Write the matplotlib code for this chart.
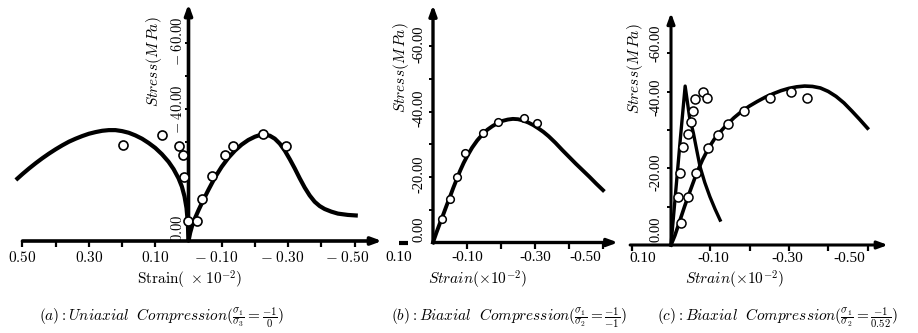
import matplotlib
matplotlib.use("Agg")
import matplotlib.pyplot as plt
import matplotlib.markers as mmarkers
import matplotlib.transforms as mtransforms

plt.rcParams["mathtext.fontset"] = "cm"
plt.rcParams["font.family"] = ["Liberation Serif", "DejaVu Serif"]

# strain in 1e-2, stress in MPa, compression negative
# (a) uniaxial compression
A_LAT_STRAIN = [0.52, 0.50, 0.48, 0.46, 0.44, 0.42, 0.40, 0.38, 0.36, 0.34, 0.32,
                0.30, 0.28, 0.26, 0.24, 0.22, 0.20, 0.18, 0.16, 0.14, 0.12, 0.10,
                0.08, 0.06, 0.045, 0.03, 0.02, 0.012, 0.006, 0.002, 0.0]
A_LAT_STRESS = [-18.5, -20.3, -22.0, -23.6, -25.1, -26.5, -27.8, -29.0, -30.1, -31.0,
                -31.8, -32.5, -33.0, -33.4, -33.6, -33.6, -33.3, -32.8, -32.0, -31.0,
                -29.7, -28.2, -26.3, -24.0, -21.8, -19.0, -16.5, -13.5, -10.0, -5.5, 0.0]
A_AX_STRAIN = [0.0, -0.005, -0.012, -0.02, -0.03, -0.045, -0.06, -0.08, -0.10, -0.12,
               -0.14, -0.16, -0.18, -0.20, -0.215, -0.23, -0.245, -0.26, -0.275, -0.29,
               -0.305, -0.32, -0.335, -0.35, -0.365, -0.38, -0.395, -0.41, -0.43,
               -0.45, -0.48, -0.51]
A_AX_STRESS = [0.0, -2.5, -5.0, -7.0, -9.3, -12.5, -15.5, -19.3, -22.5, -25.2,
               -27.4, -29.2, -30.6, -31.6, -32.1, -32.2, -31.9, -31.0, -29.5, -27.4,
               -24.8, -22.0, -19.0, -16.2, -13.8, -11.9, -10.6, -9.7, -8.9,
               -8.3, -7.9, -7.7]
A_TEST_STRAIN = [0.197, 0.080, 0.029, 0.017, 0.014, 0.002,
                 -0.025, -0.04, -0.071, -0.11, -0.134, -0.224, -0.294]
A_TEST_STRESS = [-29.1, -32.1, -28.8, -26.1, -19.4, -6.1,
                 -6.1, -12.7, -19.7, -26.1, -28.8, -32.4, -28.8]

# (b) biaxial compression -1/-1
B_STRAIN = [0.0, -0.01, -0.02, -0.03, -0.04, -0.05, -0.06, -0.07, -0.08, -0.09,
            -0.10, -0.115, -0.13, -0.145, -0.16, -0.175, -0.19, -0.205, -0.22,
            -0.235, -0.25, -0.265, -0.28, -0.295, -0.31, -0.325, -0.34, -0.36,
            -0.38, -0.40, -0.42, -0.44, -0.46, -0.48, -0.50]
B_STRESS = [0.0, -3.0, -5.8, -8.5, -11.3, -14.0, -16.8, -19.4, -22.0, -24.3,
            -26.3, -29.0, -31.2, -33.0, -34.5, -35.6, -36.5, -37.2, -37.6,
            -37.8, -37.7, -37.3, -36.7, -35.9, -34.9, -33.8, -32.5, -30.5,
            -28.3, -26.2, -24.1, -22.1, -20.1, -18.0, -16.0]
B_TEST_STRAIN = [-0.027, -0.05, -0.07, -0.094, -0.146, -0.19, -0.267, -0.306]
B_TEST_STRESS = [-7.2, -13.3, -20.0, -27.4, -33.5, -36.8, -38.1, -36.5]

# (c) biaxial compression -1/0.52
C_LAT_STRAIN = [0.0, -0.012, -0.024, -0.036, -0.047, -0.057, -0.066, -0.074, -0.086,
                -0.099, -0.112, -0.125]
C_LAT_STRESS = [0.0, -14.0, -28.0, -41.5, -33.5, -29.2, -24.5, -20.4, -16.3,
                -12.6, -9.4, -6.5]
C_AX_STRAIN = [0.0, -0.01, -0.023, -0.035, -0.05, -0.065, -0.08, -0.095, -0.11,
               -0.125, -0.14, -0.16, -0.18, -0.20, -0.22, -0.24, -0.26, -0.28,
               -0.30, -0.32, -0.34, -0.36, -0.38, -0.40, -0.42, -0.44, -0.46,
               -0.48, -0.50]
C_AX_STRESS = [0.0, -2.5, -6.5, -10.2, -14.5, -18.7, -22.2, -25.2, -27.6,
               -29.5, -31.2, -33.2, -34.9, -36.3, -37.5, -38.6, -39.5, -40.3,
               -40.9, -41.3, -41.5, -41.4, -41.0, -40.1, -38.8, -37.1, -35.0,
               -32.8, -30.5]
C_TEST1_STRAIN = [-0.019, -0.023, -0.031, -0.042, -0.050, -0.057, -0.061, -0.081, -0.091]
C_TEST1_STRESS = [-12.6, -18.7, -25.5, -29.0, -32.2, -35.1, -38.0, -40.0, -38.3]
C_TEST2_STRAIN = [-0.025, -0.044, -0.064, -0.095, -0.12, -0.146, -0.186, -0.252,
                  -0.305, -0.345]
C_TEST2_STRESS = [-5.7, -12.6, -18.7, -25.2, -28.7, -31.5, -35.0, -38.3, -40.0, -38.3]

W, H = 918, 333
fig = plt.figure(figsize=(W / 100, H / 100), dpi=100)


def make_panel(left, right, ox, oy, sx, sy):
    # axes covering the whole height; scales set so one data unit = sx / sy px
    ax = fig.add_axes([left / W, 0, (right - left) / W, 1])
    ax.set_xlim((ox - left) / sx, (ox - right) / sx)
    ax.set_ylim((H - oy) / sy, -oy / sy)
    ax.axis("off")
    return ax


def off(ax, dx, dy):
    return mtransforms.offset_copy(ax.transData, fig=fig, x=dx, y=dy, units="dots")


def arrow(ax, x0, y0, x1, y1, lw):
    ax.annotate("", xy=(x1, y1), xytext=(x0, y0), annotation_clip=False,
                arrowprops=dict(arrowstyle="-|>,head_length=0.6,head_width=0.22",
                                lw=lw, color="k", shrinkA=0, shrinkB=0))


def axes_frame(ax, x0, x1, ytop, lw, xticks, yticks):
    arrow(ax, x0, 0, x1, 0, lw)
    arrow(ax, 0, 0, 0, ytop, lw)
    ax.plot(xticks, [0] * len(xticks), ls="none", color="k",
            marker=mmarkers.TICKDOWN, ms=4, mew=1.6, clip_on=False)
    ax.plot([0] * len(yticks), yticks, ls="none", color="k",
            marker=mmarkers.TICKLEFT, ms=3, mew=1.4, clip_on=False)


# ---------------- (a) ----------------
ax_a = make_panel(0, 372, 188.5, 241, 332, 3.3)
axes_frame(ax_a, 0.5, -0.583, -71.8, 2.6,
           [0.5, 0.4, 0.3, 0.2, 0.1, -0.1, -0.2, -0.3, -0.4, -0.5],
           [-10, -20, -30, -40, -50, -60])
ax_a.plot(A_LAT_STRAIN, A_LAT_STRESS, color="k", lw=3.0, solid_capstyle="butt",
          solid_joinstyle="round")
ax_a.plot(A_AX_STRAIN, A_AX_STRESS, color="k", lw=3.0, solid_capstyle="butt",
          solid_joinstyle="round")
ax_a.plot(A_TEST_STRAIN, A_TEST_STRESS, ls="none", marker="o", ms=6.5,
          mfc="white", mec="k", mew=1.2, zorder=5)
for v, lab, dx in [(0.5, r"$\mathbf{0.50}$", 0), (0.3, r"$\mathbf{0.30}$", 0),
                   (0.1, r"$\mathbf{0.10}$", 0), (-0.1, r"$\mathbf{-\;0.10}$", -6),
                   (-0.3, r"$\mathbf{-\;0.30}$", -6), (-0.5, r"$\mathbf{-\;0.50}$", -7)]:
    ax_a.text(v, 0, lab, transform=off(ax_a, dx, -16), ha="center", va="center",
              fontsize=11)
for v, lab, dy in [(0, r"$0.00$", 13), (-40, r"$-\;40.00$", 0), (-60, r"$-\;60.00$", 2)]:
    ax_a.text(0, v, lab, transform=off(ax_a, -11, dy), rotation=90,
              ha="center", va="center", fontsize=10.5)
ax_a.text(0, 0, r"$Stress(M\,Pa)$", transform=off(ax_a, -35, 179), rotation=90,
          ha="center", va="center", fontsize=11)

# ---------------- (b) ----------------
ax_b = make_panel(372, 625, 433, 242.5, 340, 3.27)
axes_frame(ax_b, 0, -0.544, -72.6, 2.4,
           [-0.1, -0.2, -0.3, -0.4, -0.5],
           [-10, -20, -30, -40, -50, -60])
ax_b.plot([0.1, 0.074], [0, 0], color="k", lw=3.0, solid_capstyle="butt")
ax_b.plot(B_STRAIN, B_STRESS, color="k", lw=2.8, solid_joinstyle="round")
ax_b.plot(B_TEST_STRAIN, B_TEST_STRESS, ls="none", marker="o", ms=5.5,
          mfc="white", mec="k", mew=1.1, zorder=5)
for v, lab, dx in [(0.1, "0.10", 0), (-0.1, "-0.10", 0), (-0.3, "-0.30", 0),
                   (-0.5, "-0.50", -18)]:
    ax_b.text(v, 0, lab, transform=off(ax_b, dx, -15), ha="center", va="center",
              fontsize=11)
for v, lab, dy in [(0, "0.00", 13), (-20, "-20.00", 3), (-40, "-40.00", 3),
                   (-60, "-60.00", 2)]:
    ax_b.text(0, v, lab, transform=off(ax_b, -14, dy), rotation=90,
              ha="center", va="center", fontsize=10.5)
ax_b.text(0, 0, r"$Stress(M\,Pa)$", transform=off(ax_b, -32, 175), rotation=90,
          ha="center", va="center", fontsize=11)

# ---------------- (c) ----------------
ax_c = make_panel(625, 918, 671, 245, 393, 3.83)
axes_frame(ax_c, 0.104, -0.552, -60.6, 2.2,
           [0.1, -0.1, -0.2, -0.3, -0.4, -0.5],
           [-10, -20, -30, -40, -50])
ax_c.plot(C_LAT_STRAIN, C_LAT_STRESS, color="k", lw=2.4, solid_joinstyle="round")
ax_c.plot(C_AX_STRAIN, C_AX_STRESS, color="k", lw=2.6, solid_joinstyle="round")
ax_c.plot(C_TEST1_STRAIN, C_TEST1_STRESS, ls="none", marker="o", ms=6.5,
          mfc="white", mec="k", mew=1.1, zorder=5)
ax_c.plot(C_TEST2_STRAIN, C_TEST2_STRESS, ls="none", marker="o", ms=6.5,
          mfc="white", mec="k", mew=1.1, zorder=5)
for v, lab, dx in [(0.1, "0.10", 11), (-0.1, "-0.10", 3), (-0.3, "-0.30", -2),
                   (-0.5, "-0.50", -18)]:
    ax_c.text(v, 0, lab, transform=off(ax_c, dx, -14), ha="center", va="center",
              fontsize=11)
for v, lab, dy in [(0, "0.00", 16), (-20, "-20.00", -4), (-40, "-40.00", -5),
                   (-50, "-60.00", 10)]:
    ax_c.text(0, v, lab, transform=off(ax_c, -15, dy), rotation=90,
              ha="center", va="center", fontsize=10.5)
ax_c.text(0, 0, r"$Stress(M\,Pa)$", transform=off(ax_c, -36, 176), rotation=90,
          ha="center", va="center", fontsize=11)

# ---------------- x labels and captions ----------------
fig.text(190 / W, 1 - 280 / H, r"$\mathrm{Strain}(\ \times10^{-2})$", ha="center",
         va="center", fontsize=11)
fig.text(478 / W, 1 - 280 / H, r"$Strain(\times10^{-2})$", ha="center",
         va="center", fontsize=11)
fig.text(735 / W, 1 - 280 / H, r"$Strain(\times10^{-2})$", ha="center",
         va="center", fontsize=11)

fig.text(162 / W, 1 - 318 / H,
         r"$(a):Uniaxial\ \ Compression(\frac{\sigma_1}{\sigma_3}=\frac{-1}{0})$",
         ha="center", va="center", fontsize=11)
fig.text(509 / W, 1 - 318 / H,
         r"$(b):Biaxial\ \ Compression(\frac{\sigma_1}{\sigma_2}=\frac{-1}{-1})$",
         ha="center", va="center", fontsize=11)
fig.text(778 / W, 1 - 318 / H,
         r"$(c):Biaxial\ \ Compression(\frac{\sigma_1}{\sigma_2}=\frac{-1}{0.52})$",
         ha="center", va="center", fontsize=11)

fig.savefig("out.png", dpi=100, facecolor="white")
